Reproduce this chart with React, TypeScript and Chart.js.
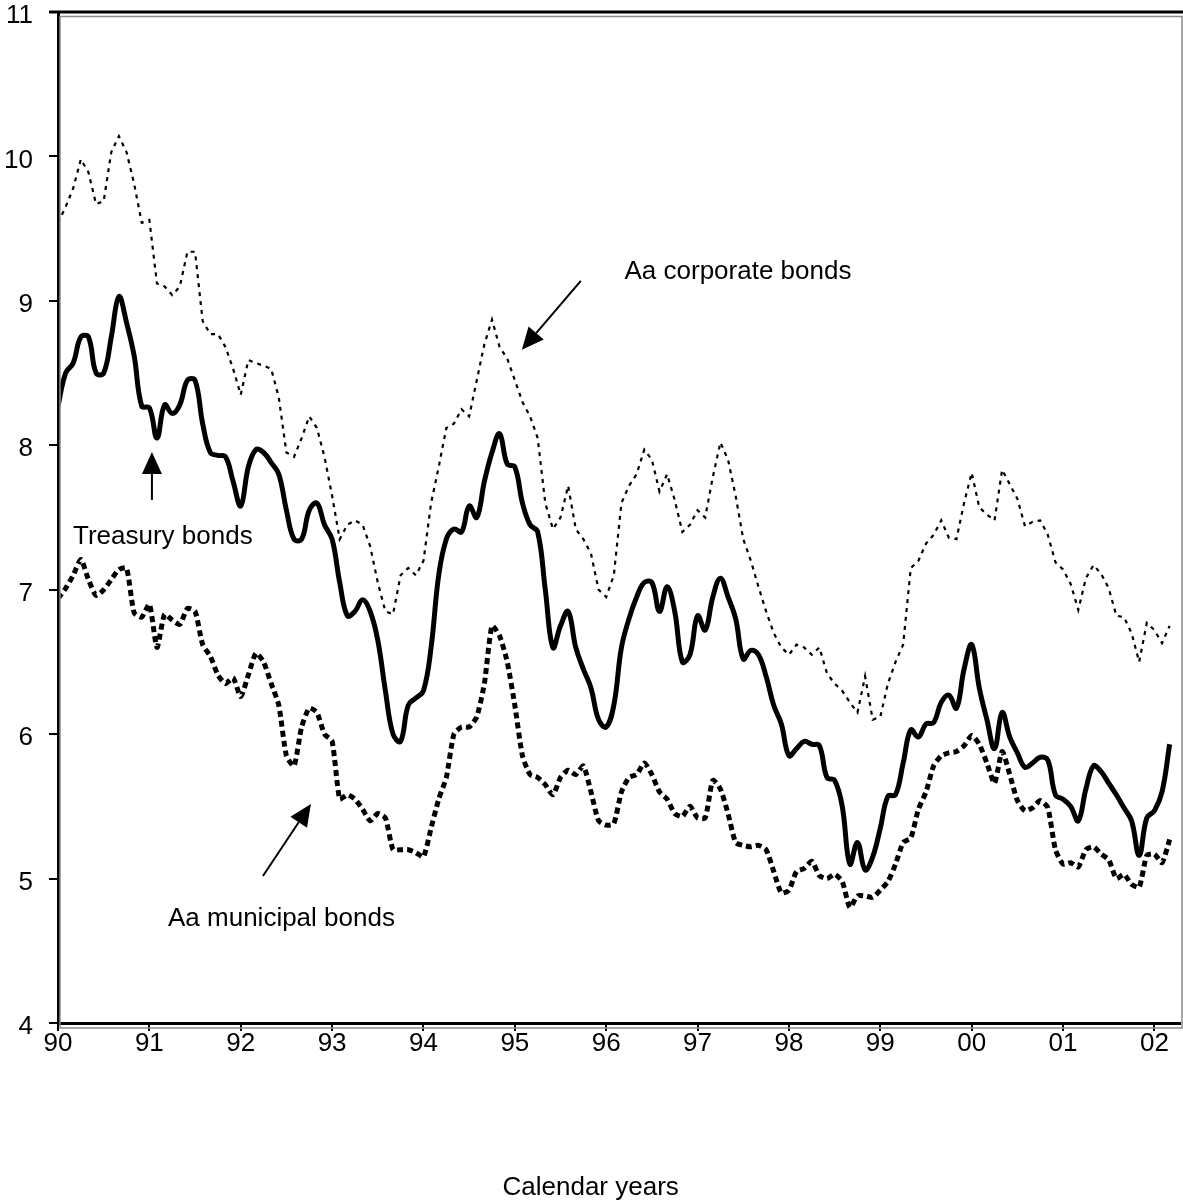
import React, { useEffect, useRef } from 'react';
import { Chart, registerables } from 'chart.js';

Chart.register(...registerables);

// Monthly yields, Jan 1990 .. Mar 2002
const START_YEAR = 1990;

const treasury = [
  8.27, 8.50, 8.57, 8.75, 8.75, 8.50, 8.50, 8.75, 9.03, 8.85, 8.62, 8.27,
  8.26, 8.05, 8.28, 8.22, 8.28, 8.45, 8.45, 8.15, 7.95, 7.93, 7.92, 7.75,
  7.58, 7.85, 7.97, 7.95, 7.88, 7.80, 7.55, 7.35, 7.35, 7.55, 7.60, 7.45,
  7.35, 7.05, 6.82, 6.85, 6.93, 6.85, 6.65, 6.30, 6.00, 5.95, 6.20, 6.25,
  6.30, 6.60, 7.10, 7.35, 7.42, 7.40, 7.58, 7.50, 7.75, 7.95, 8.08, 7.87,
  7.85, 7.60, 7.45, 7.40, 7.00, 6.60, 6.75, 6.85, 6.60, 6.45, 6.32, 6.10,
  6.05, 6.20, 6.60, 6.80, 6.95, 7.05, 7.05, 6.85, 7.02, 6.85, 6.50, 6.55,
  6.82, 6.72, 6.95, 7.08, 6.95, 6.80, 6.52, 6.58, 6.55, 6.40, 6.20, 6.07,
  5.85, 5.90, 5.95, 5.93, 5.92, 5.70, 5.68, 5.50, 5.10, 5.25, 5.06, 5.15,
  5.35, 5.57, 5.58, 5.80, 6.03, 5.98, 6.07, 6.08, 6.22, 6.27, 6.18, 6.45,
  6.62, 6.32, 6.10, 5.90, 6.15, 5.98, 5.87, 5.77, 5.80, 5.84, 5.82, 5.58,
  5.55, 5.50, 5.40, 5.62, 5.78, 5.74, 5.66, 5.58, 5.49, 5.40, 5.16, 5.42,
  5.47, 5.60, 5.93,
];

const corporate = [
  9.54, 9.65, 9.78, 9.98, 9.89, 9.67, 9.69, 10.03, 10.14, 10.03, 9.81, 9.54,
  9.56, 9.12, 9.10, 9.04, 9.10, 9.34, 9.34, 8.86, 8.77, 8.77, 8.68, 8.53,
  8.35, 8.59, 8.57, 8.55, 8.53, 8.33, 7.95, 7.92, 8.05, 8.20, 8.12, 7.92,
  7.65, 7.35, 7.45, 7.48, 7.45, 7.30, 7.05, 6.85, 6.83, 7.10, 7.15, 7.10,
  7.20, 7.60, 7.85, 8.12, 8.15, 8.25, 8.20, 8.45, 8.70, 8.87, 8.68, 8.60,
  8.45, 8.30, 8.20, 8.05, 7.60, 7.42, 7.50, 7.72, 7.42, 7.35, 7.25, 7.00,
  6.95, 7.10, 7.60, 7.72, 7.80, 7.97, 7.90, 7.68, 7.80, 7.62, 7.40, 7.45,
  7.55, 7.50, 7.78, 8.02, 7.90, 7.65, 7.35, 7.20, 7.02, 6.85, 6.70, 6.60,
  6.55, 6.62, 6.60, 6.55, 6.60, 6.42, 6.35, 6.30, 6.22, 6.15, 6.40, 6.10,
  6.12, 6.35, 6.50, 6.62, 7.15, 7.20, 7.32, 7.38, 7.48, 7.36, 7.35, 7.60,
  7.81, 7.57, 7.52, 7.48, 7.83, 7.73, 7.63, 7.44, 7.47, 7.48, 7.38, 7.19,
  7.14, 7.04, 6.86, 7.08, 7.17, 7.11, 7.01, 6.82, 6.81, 6.70, 6.50, 6.77,
  6.72, 6.63, 6.75,
];

const municipal = [
  6.94, 7.01, 7.10, 7.21, 7.07, 6.96, 7.00, 7.07, 7.14, 7.15, 6.84, 6.81,
  6.90, 6.60, 6.83, 6.79, 6.76, 6.87, 6.85, 6.62, 6.54, 6.41, 6.35, 6.39,
  6.26, 6.41, 6.56, 6.50, 6.35, 6.20, 5.85, 5.78, 6.05, 6.18, 6.15, 6.00,
  5.95, 5.55, 5.58, 5.55, 5.48, 5.40, 5.45, 5.42, 5.20, 5.20, 5.20, 5.18,
  5.15, 5.35, 5.55, 5.70, 6.00, 6.05, 6.05, 6.12, 6.35, 6.75, 6.68, 6.50,
  6.20, 5.85, 5.72, 5.70, 5.65, 5.58, 5.70, 5.75, 5.72, 5.78, 5.60, 5.40,
  5.37, 5.38, 5.60, 5.70, 5.72, 5.80, 5.72, 5.60, 5.55, 5.45, 5.43, 5.50,
  5.42, 5.42, 5.68, 5.62, 5.45, 5.25, 5.23, 5.22, 5.23, 5.20, 5.05, 4.90,
  4.92, 5.05, 5.07, 5.12, 5.02, 5.00, 5.03, 4.98, 4.80, 4.88, 4.88, 4.87,
  4.92, 4.98, 5.10, 5.25, 5.28, 5.48, 5.60, 5.78, 5.85, 5.87, 5.88, 5.92,
  5.99, 5.93, 5.80, 5.66, 5.88, 5.72, 5.54, 5.47, 5.49, 5.54, 5.49, 5.20,
  5.10, 5.11, 5.08, 5.20, 5.22, 5.17, 5.13, 5.00, 5.03, 4.96, 4.94, 5.16,
  5.17, 5.11, 5.27,
];

const xTickYears = [1990, 1991, 1992, 1993, 1994, 1995, 1996, 1997, 1998, 1999, 2000, 2001, 2002];
const yTickValues = [4, 5, 6, 7, 8, 9, 10, 11];

const xAxisTitle = 'Calendar years';

// Annotation labels (data coordinates) and arrows
const labelNames = ['Aa corporate bonds', 'Treasury bonds', 'Aa municipal bonds'];
const labelX = [1996.2, 1990.164, 1991.204];
const labelY = [9.2, 7.366, 4.72];
const arrowFromX = [1995.722, 1991.028, 1992.243];
const arrowFromY = [9.139, 7.622, 5.018];
const arrowToX = [1995.077, 1991.028, 1992.768];
const arrowToY = [8.661, 7.954, 5.517];

const FONT = '26px "Liberation Sans", Arial, sans-serif';

const toPoints = (arr: number[]) => arr.map((v, i) => ({ x: START_YEAR + i / 12, y: v }));

const annotationPlugin = {
  id: 'annotations',
  afterDraw(chart: any) {
    const { ctx, chartArea, scales } = chart;
    const xs = scales.x;
    const ys = scales.y;
    ctx.save();
    // frame decorations
    ctx.strokeStyle = '#8a8a8a';
    ctx.lineWidth = 1.5;
    ctx.strokeRect(chartArea.left + 2, chartArea.top + 4.5, chartArea.right - chartArea.left, chartArea.bottom - chartArea.top + 0.5);
    ctx.strokeStyle = '#000';
    ctx.lineWidth = 3;
    ctx.beginPath();
    ctx.moveTo(chartArea.left - 9, chartArea.top);
    ctx.lineTo(chart.width, chartArea.top);
    ctx.stroke();

    // labels
    ctx.fillStyle = '#000';
    ctx.font = FONT;
    ctx.textBaseline = 'middle';
    ctx.textAlign = 'left';
    labelNames.forEach((t, i) => {
      ctx.fillText(t, xs.getPixelForValue(labelX[i]), ys.getPixelForValue(labelY[i]));
    });

    // arrows
    const headLen = 22;
    const headHalf = 10;
    arrowFromX.forEach((_, i) => {
      const x1 = xs.getPixelForValue(arrowFromX[i]);
      const y1 = ys.getPixelForValue(arrowFromY[i]);
      const x2 = xs.getPixelForValue(arrowToX[i]);
      const y2 = ys.getPixelForValue(arrowToY[i]);
      const ang = Math.atan2(y2 - y1, x2 - x1);
      const bx = x2 - headLen * Math.cos(ang);
      const by = y2 - headLen * Math.sin(ang);
      ctx.strokeStyle = '#000';
      ctx.lineWidth = 2;
      ctx.beginPath();
      ctx.moveTo(x1, y1);
      ctx.lineTo(bx, by);
      ctx.stroke();
      ctx.beginPath();
      ctx.moveTo(x2, y2);
      ctx.lineTo(bx + headHalf * Math.sin(ang), by - headHalf * Math.cos(ang));
      ctx.lineTo(bx - headHalf * Math.sin(ang), by + headHalf * Math.cos(ang));
      ctx.closePath();
      ctx.fill();
    });

    // x axis title
    ctx.textAlign = 'center';
    ctx.fillText(xAxisTitle, xs.getPixelForValue(1995.83), chartArea.bottom + 165);
    ctx.restore();
  },
};

export default function App() {
  const ref = useRef<HTMLCanvasElement | null>(null);

  useEffect(() => {
    if (!ref.current) return;
    const chart = new Chart(ref.current, {
      type: 'line',
      data: {
        datasets: [
          {
            label: 'Aa corporate bonds',
            data: toPoints(corporate),
            borderColor: '#000',
            borderWidth: 2.2,
            borderDash: [4, 5],
            tension: 0,
            pointRadius: 0,
            fill: false,
          },
          {
            label: 'Treasury bonds',
            data: toPoints(treasury),
            borderColor: '#000',
            borderWidth: 5,
            tension: 0.4,
            pointRadius: 0,
            fill: false,
          },
          {
            label: 'Aa municipal bonds',
            data: toPoints(municipal),
            borderColor: '#000',
            borderWidth: 5,
            borderDash: [6, 4],
            tension: 0.2,
            pointRadius: 0,
            fill: false,
          },
        ],
      },
      options: {
        responsive: false,
        devicePixelRatio: 1,
        animation: false,
        layout: { padding: { left: 0, top: 12, right: 3, bottom: 0 } },
        plugins: { legend: { display: false }, tooltip: { enabled: false } },
        scales: {
          x: {
            type: 'linear',
            min: 1990,
            max: 2002.28,
            afterFit: (s: any) => { s.height = 178; s.paddingRight = 3; },
            afterBuildTicks: (s: any) => { s.ticks = xTickYears.map((v) => ({ value: v })); },
            ticks: {
              color: '#000',
              font: { family: '"Liberation Sans", Arial, sans-serif', size: 26, lineHeight: 0.8 },
              padding: 2,
              maxRotation: 0,
              autoSkip: false,
              callback: (v: any) => String(Math.round(Number(v)) % 100).padStart(2, '0'),
            },
            grid: { display: true, drawOnChartArea: false, drawTicks: true, tickLength: 8, color: '#000', lineWidth: 2 },
            border: { display: true, color: '#000', width: 3 },
          },
          y: {
            type: 'linear',
            min: 4,
            max: 11,
            afterFit: (s: any) => { s.width = 58; s.paddingTop = 0; s.paddingBottom = 0; },
            afterBuildTicks: (s: any) => { s.ticks = yTickValues.map((v) => ({ value: v })); },
            ticks: {
              color: '#000',
              font: { family: '"Liberation Sans", Arial, sans-serif', size: 26, lineHeight: 0.8 },
              padding: 16,
              labelOffset: 4,
            },
            grid: { display: true, drawOnChartArea: false, drawTicks: true, tickLength: 9, color: '#000', lineWidth: 2 },
            border: { display: true, color: '#000', width: 3 },
          },
        },
      },
      plugins: [annotationPlugin],
    });
    return () => chart.destroy();
  }, []);

  return (
    <div style={{ position: 'absolute', left: 0, top: 0, width: 1183, height: 1201, background: '#fff' }}>
      <canvas ref={ref} width={1183} height={1201} style={{ display: 'block', width: 1183, height: 1201 }} />
    </div>
  );
}
